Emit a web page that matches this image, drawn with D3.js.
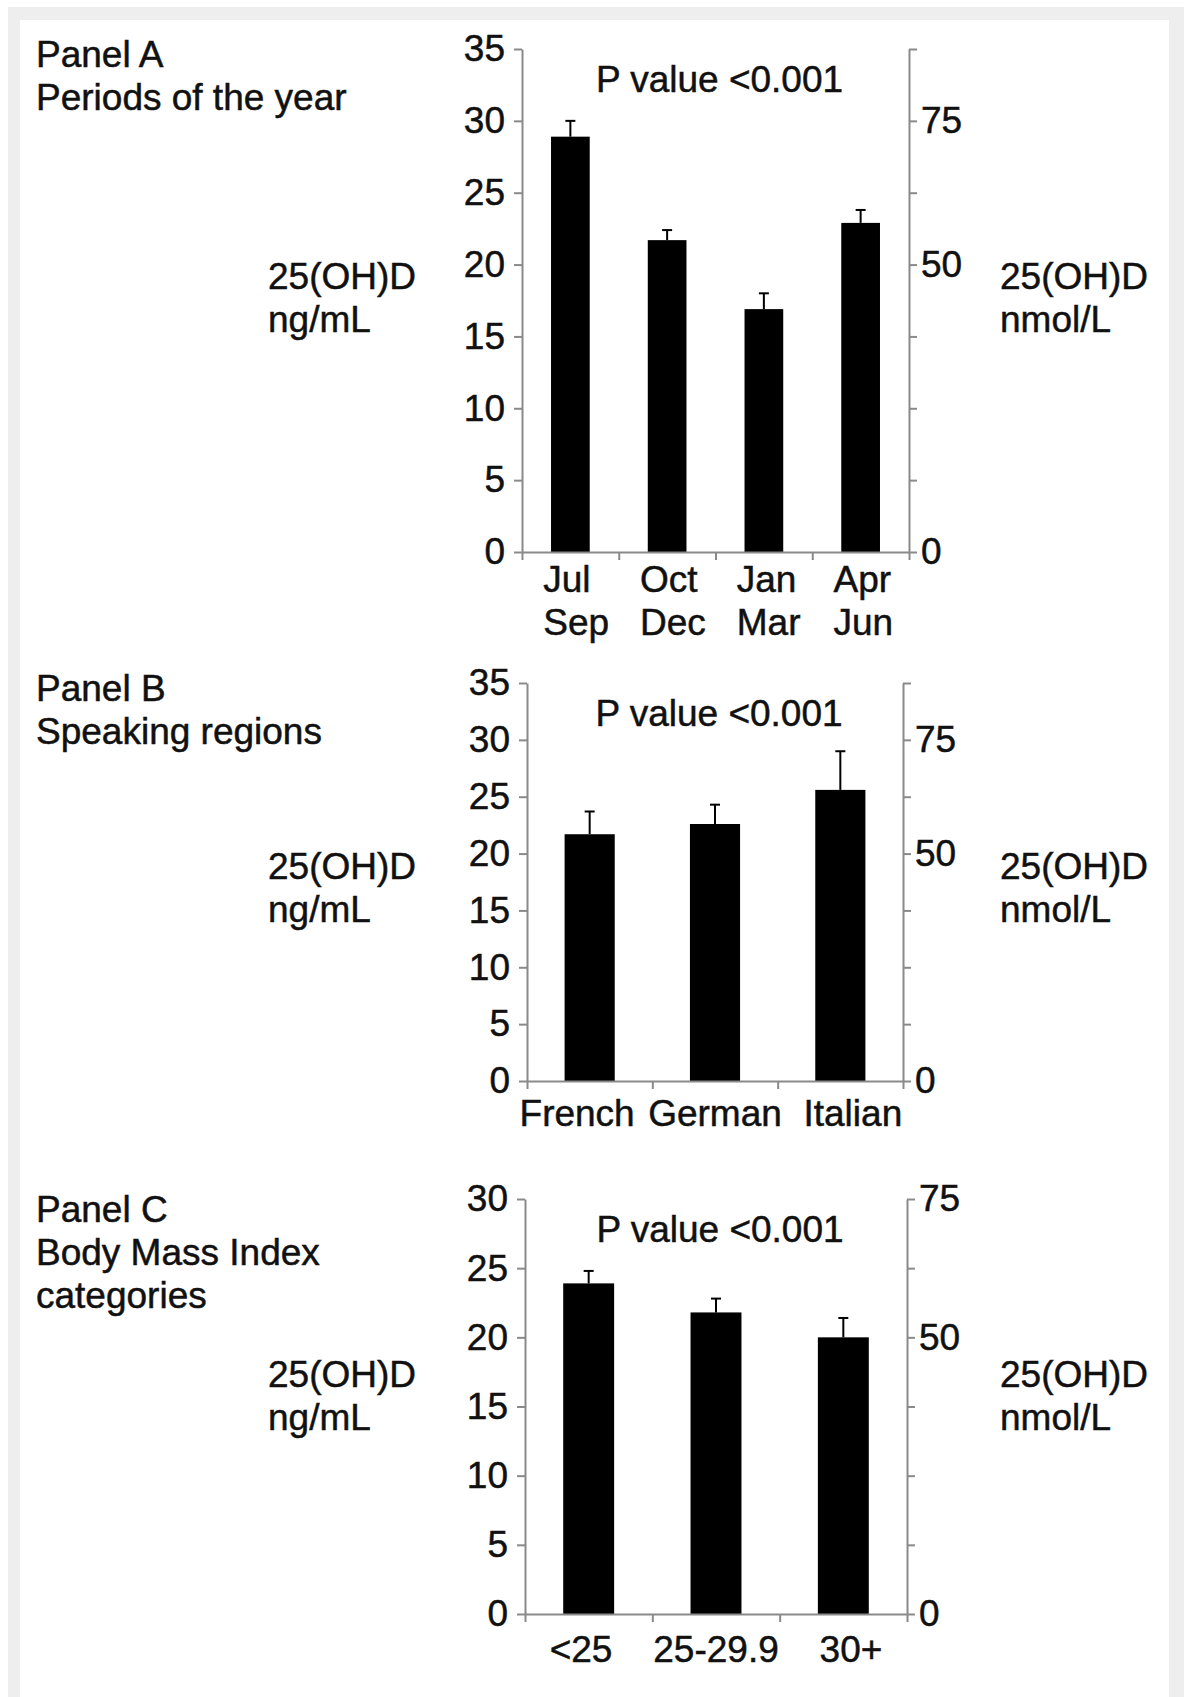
<!DOCTYPE html>
<html>
<head>
<meta charset="utf-8">
<script src="https://cdn.jsdelivr.net/npm/d3@7"></script>
<style>
  html, body { margin: 0; padding: 0; background: #ffffff; }
  svg { display: block; }
  text { font-family: "Liberation Sans", Arial, sans-serif; fill: #111; stroke: #111; stroke-width: 0.5px; }
</style>
</head>
<body>
<svg id="chart" width="1184" height="1697"></svg>
<script>
// Serum 25(OH)D means (ng/mL) with upper end of the error bar
const periodCategories = [["Jul", "Sep"], ["Oct", "Dec"], ["Jan", "Mar"], ["Apr", "Jun"]];
const periodMeans = [28.9, 21.7, 16.9, 22.9];
const periodUpper = [30.0, 22.4, 18.0, 23.8];

const regionCategories = ["French", "German", "Italian"];
const regionMeans = [21.7, 22.6, 25.6];
const regionUpper = [23.7, 24.3, 29.0];

const bmiCategories = ["<25", "25-29.9", "30+"];
const bmiMeans = [23.9, 21.8, 20.0];
const bmiUpper = [24.8, 22.8, 21.4];

const panelTitles = [
  ["Panel A", "Periods of the year"],
  ["Panel B", "Speaking regions"],
  ["Panel C", "Body Mass Index", "categories"]
];
const pValueLabel = "P value <0.001";
const leftAxisTitle = ["25(OH)D", "ng/mL"];
const rightAxisTitle = ["25(OH)D", "nmol/L"];
const ngMaxima = [35, 35, 30];
const ngTickStep = 5;
const nmolLabelled = [0, 50, 75];
const NG_TO_NMOL = 2.5;

const svg = d3.select("#chart");
const W = 1184, H = 1697;

// page frame
svg.append("rect").attr("x", 8).attr("y", 7).attr("width", W - 8).attr("height", H - 7).attr("fill", "#eeeeee");
svg.append("rect").attr("x", 20).attr("y", 20).attr("width", 1149).attr("height", H - 20).attr("fill", "#ffffff");

const AXIS_COLOR = "#8a8a8a";
const FS = 37;

const panels = [
  { cats: periodCategories, means: periodMeans, upper: periodUpper, yMax: ngMaxima[0],
    left: 522, right: 909, top: 49, bottom: 552, titleY: 67, axisTitleY: 289,
    multiLine: true, labelY: 592, spread: 0 },
  { cats: regionCategories, means: regionMeans, upper: regionUpper, yMax: ngMaxima[1],
    left: 527, right: 903, top: 683, bottom: 1081, titleY: 701, axisTitleY: 879,
    multiLine: false, labelY: 1126, spread: 0.1 },
  { cats: bmiCategories, means: bmiMeans, upper: bmiUpper, yMax: ngMaxima[2],
    left: 525, right: 907, top: 1199, bottom: 1614, titleY: 1222, axisTitleY: 1387,
    multiLine: false, labelY: 1662, spread: 0.06 }
];

panels.forEach((p, i) => {
  const g = svg.append("g");
  const keys = p.cats.map((c, k) => k);

  const x = d3.scaleBand().domain(keys).range([p.left, p.right]).paddingInner(0.6).paddingOuter(0.3);
  const xEdge = d3.scaleLinear().domain([0, keys.length]).range([p.left, p.right]);
  const y = d3.scaleLinear().domain([0, p.yMax]).range([p.bottom, p.top]);
  const yN = d3.scaleLinear().domain([0, p.yMax * NG_TO_NMOL]).range([p.bottom, p.top]);

  // panel heading
  const head = g.append("text").attr("x", 36).attr("y", p.titleY).style("font-size", FS + "px");
  panelTitles[i].forEach((line, k) => {
    head.append("tspan").attr("x", 36).attr("dy", k === 0 ? 0 : 43).text(line);
  });

  // left axis title
  const lt = g.append("text").attr("x", 268).attr("y", p.axisTitleY).style("font-size", FS + "px");
  leftAxisTitle.forEach((line, k) => lt.append("tspan").attr("x", 268).attr("dy", k === 0 ? 0 : 43).text(line));
  // right axis title
  const rt = g.append("text").attr("x", 1000).attr("y", p.axisTitleY).style("font-size", FS + "px");
  rightAxisTitle.forEach((line, k) => rt.append("tspan").attr("x", 1000).attr("dy", k === 0 ? 0 : 43).text(line));

  // bars
  g.selectAll("rect.bar").data(keys).join("rect")
    .attr("class", "bar")
    .attr("x", k => x(k))
    .attr("width", x.bandwidth())
    .attr("y", k => y(p.means[k]))
    .attr("height", k => y(0) - y(p.means[k]))
    .attr("fill", "#000");

  // error bars
  const cx = k => x(k) + x.bandwidth() / 2;
  g.selectAll("line.err").data(keys).join("line")
    .attr("x1", cx).attr("x2", cx)
    .attr("y1", k => y(p.means[k])).attr("y2", k => y(p.upper[k]))
    .attr("stroke", "#000").attr("stroke-width", 2);
  g.selectAll("line.cap").data(keys).join("line")
    .attr("x1", k => cx(k) - 5).attr("x2", k => cx(k) + 5)
    .attr("y1", k => y(p.upper[k])).attr("y2", k => y(p.upper[k]))
    .attr("stroke", "#000").attr("stroke-width", 2);

  // left axis (ng/mL)
  const leftAxis = d3.axisLeft(y)
    .tickValues(d3.range(0, p.yMax + 0.01, ngTickStep))
    .tickSize(8).tickSizeOuter(0).tickPadding(9);
  const ga = g.append("g").attr("transform", `translate(${p.left},0)`).call(leftAxis);

  // right axis (nmol/L)
  const rightAxis = d3.axisRight(yN)
    .tickValues(d3.range(0, p.yMax * NG_TO_NMOL + 0.01, ngTickStep * NG_TO_NMOL))
    .tickFormat(v => nmolLabelled.includes(v) ? d3.format("d")(v) : "")
    .tickSize(8).tickSizeOuter(0).tickPadding(4);
  const gr = g.append("g").attr("transform", `translate(${p.right},0)`).call(rightAxis);

  // category axis with ticks at band boundaries
  const bottomAxis = d3.axisBottom(xEdge).tickValues(d3.range(0, keys.length + 1))
    .tickFormat("").tickSize(8).tickSizeOuter(0);
  const gb = g.append("g").attr("transform", `translate(0,${p.bottom})`).call(bottomAxis);

  [ga, gr, gb].forEach(a => {
    a.select(".domain").attr("stroke", AXIS_COLOR).attr("stroke-width", 2);
    a.selectAll(".tick line").attr("stroke", AXIS_COLOR).attr("stroke-width", 2);
    a.selectAll(".tick text").style("font-size", FS + "px").attr("fill", "#111")
      .style("font-family", '"Liberation Sans", Arial, sans-serif');
  });

  // category labels
  const mid = (p.left + p.right) / 2;
  if (p.multiLine) {
    keys.forEach(k => {
      const x0 = x(k) - x.step() * x.paddingOuter() + x.step() * 0.22;
      const t = g.append("text").attr("x", x0).attr("y", p.labelY).style("font-size", FS + "px");
      p.cats[k].forEach((line, j) => t.append("tspan").attr("x", x0).attr("dy", j === 0 ? 0 : 43).text(line));
    });
  } else {
    g.selectAll("text.cat").data(keys).join("text")
      .attr("class", "cat")
      .attr("x", k => cx(k) + (cx(k) - mid) * p.spread)
      .attr("y", p.labelY)
      .attr("text-anchor", "middle")
      .style("font-size", FS + "px")
      .text(k => p.cats[k]);
  }

  // significance note
  g.append("text").attr("x", mid + 4).attr("y", p.top + 43)
    .attr("text-anchor", "middle").style("font-size", FS + "px").text(pValueLabel);
});
</script>
</body>
</html>
